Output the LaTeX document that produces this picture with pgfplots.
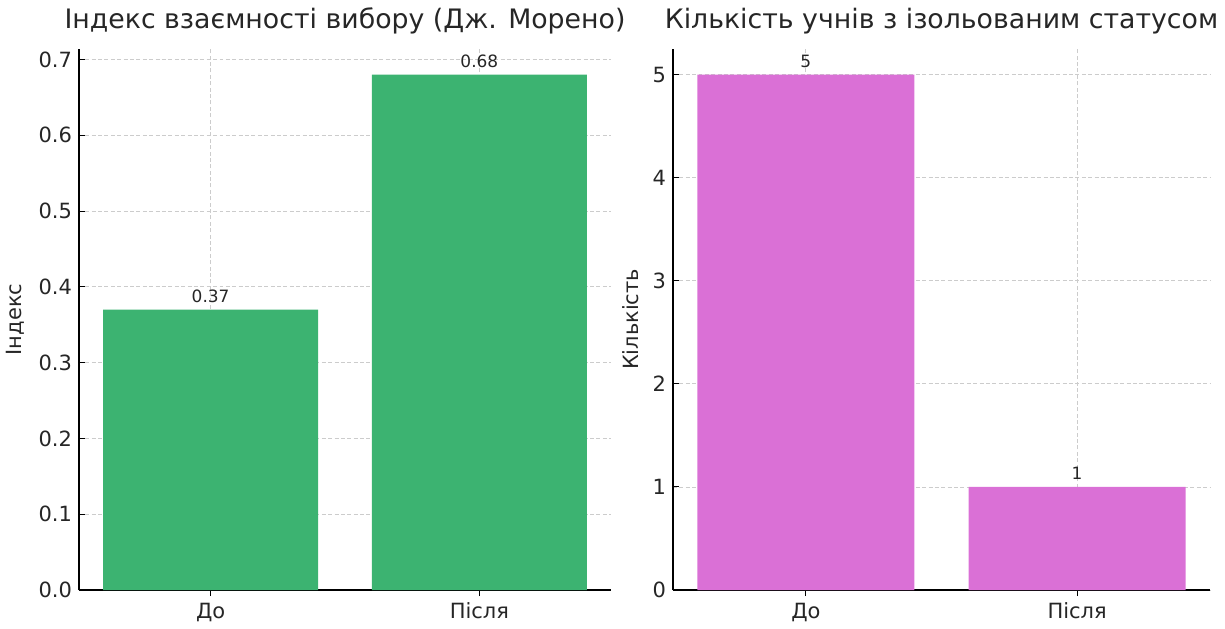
\documentclass[border=0pt]{standalone}
\usepackage{fontspec}
\setmainfont{DejaVu Sans}
\usepackage{pgfplots}
\pgfplotsset{compat=1.18}

\definecolor{bargreen}{HTML}{3CB371}
\definecolor{barorchid}{HTML}{DA70D6}
\definecolor{txt}{HTML}{262626}

% 1 px of the reference = 0.5pt
\pgfplotsset{
  panel/.style={
    scale only axis,
    width=266.5pt, height=271pt,
    anchor=south west,
    axis x line*=bottom, axis y line*=left,
    axis line style={black, line width=0.6pt},
    xmin=-0.49, xmax=1.49, ymin=0,
    xtick={0,1}, xticklabels={До, Після},
    ybar, bar width=0.8, bar shift=0pt,
    grid=major,
    major grid style={dash pattern=on 2pt off 1.2pt, gray!40, line width=0.4pt},
    major tick length=3pt,
    tick style={black, line width=0.5pt},
    ticklabel style={font=\fontsize{10.5}{12}\selectfont, text=txt},
    /pgf/number format/assume math mode=true,
    label style={font=\fontsize{10.5}{12}\selectfont, text=txt},
    title style={font=\fontsize{13.4}{16}\selectfont, text=txt, yshift=-2pt},
    nodes near coords,
    every node near coord/.append style={font=\fontsize{8.5}{10}\selectfont, text=txt},
  }
}

\begin{document}
\begin{tikzpicture}
\path (0,0) rectangle (612.5pt,-309pt);

\begin{axis}[panel,
  at={(38.5pt,-295.5pt)},
  ymax=0.714,
  ytick={0,0.1,...,0.7},
  yticklabel style={/pgf/number format/.cd, fixed, fixed zerofill, precision=1},
  every node near coord/.append style={/pgf/number format/.cd, fixed, fixed zerofill, precision=2},
  title={Індекс взаємності вибору (Дж. Морено)},
  ylabel={Індекс},
]
\addplot[fill=bargreen, draw=none] coordinates {(0,0.37) (1,0.68)};
\end{axis}

\begin{axis}[panel,
  at={(336pt,-295.5pt)},
  width=269pt,
  ymax=5.25,
  ytick={0,1,2,3,4,5},
  title={Кількість учнів з ізольованим статусом},
  ylabel={Кількість},
]
\addplot[fill=barorchid, draw=none] coordinates {(0,5) (1,1)};
\end{axis}
\end{tikzpicture}
\end{document}
